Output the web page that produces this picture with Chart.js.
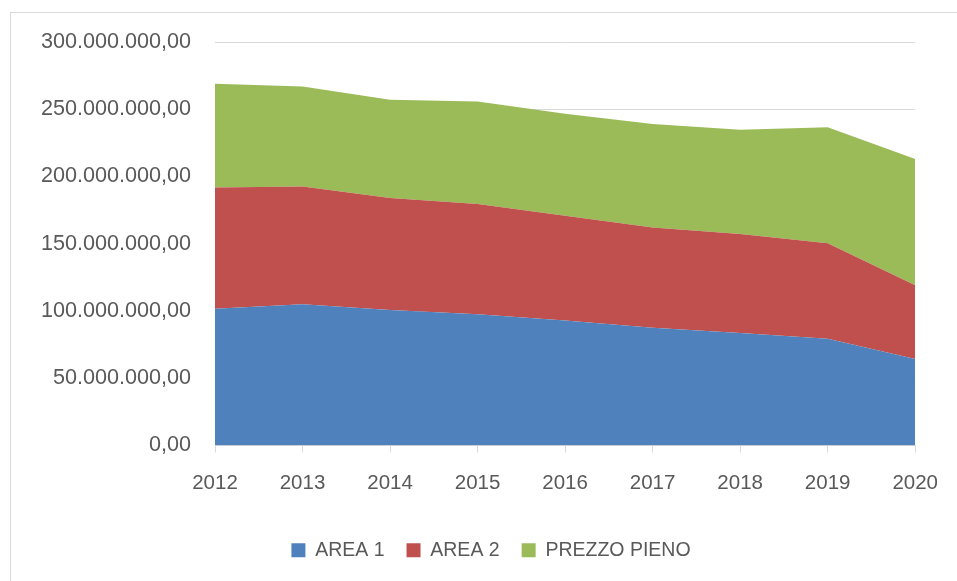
<!DOCTYPE html>
<html>
<head>
<meta charset="utf-8">
<script src="https://cdn.jsdelivr.net/npm/chart.js@4"></script>
<style>
  html, body { margin: 0; padding: 0; background: #fff; }
  #wrap { position: relative; width: 957px; height: 581px; overflow: hidden; }
  #frame { position: absolute; left: 10px; top: 12px; width: 980px; height: 600px; border: 1px solid #d9d9d9; }
  #chart { position: absolute; left: 0; top: 0; }
</style>
</head>
<body>
<div id="wrap">
  <div id="frame"></div>
  <canvas id="chart" width="957" height="581"></canvas>
</div>
<script>
const years = ['2012', '2013', '2014', '2015', '2016', '2017', '2018', '2019', '2020'];
const area1 = [101600000, 105100000, 100700000, 97500000, 93000000, 87500000, 83700000, 79300000, 64400000];
const area2 = [90300000, 87500000, 83300000, 82000000, 77800000, 74500000, 73600000, 71100000, 54700000];
const prezzoPieno = [77100000, 74400000, 73000000, 76300000, 75800000, 77100000, 77400000, 86200000, 93900000];
const yMin = 0;
const yMax = 300000000;
const yStep = 50000000;

const textColor = '#595959';
const gridColor = '#d9d9d9';
const family = "'Liberation Sans', Arial, sans-serif";

// formato italiano: 300.000.000,00
function formatIt(value) {
  const parts = Math.round(value).toString().replace(/\B(?=(\d{3})+(?!\d))/g, '.');
  return parts + ',00';
}

function areaSet(label, data, color, fill) {
  return {
    label: label,
    data: data,
    backgroundColor: color,
    borderColor: color,
    borderWidth: 0,
    pointRadius: 0,
    pointHoverRadius: 0,
    fill: fill,
    tension: 0,
  };
}

// la legenda in Excel e' centrata un po' piu' a destra
const shiftLegend = {
  id: 'shiftLegend',
  afterLayout(chart) {
    if (chart.legend) {
      chart.legend.left += 23;
      chart.legend.right += 23;
    }
  },
};

const ctx = document.getElementById('chart').getContext('2d');
new Chart(ctx, {
  type: 'line',
  data: {
    labels: years,
    datasets: [
      areaSet('AREA 1', area1, '#4f81bd', 'origin'),
      areaSet('AREA 2', area2, '#c0504d', '-1'),
      areaSet('PREZZO PIENO', prezzoPieno, '#9bbb59', '-1'),
    ],
  },
  plugins: [shiftLegend],
  options: {
    responsive: false,
    animation: false,
    layout: { padding: { left: 20, right: 41, top: 42, bottom: 11 } },
    plugins: {
      tooltip: { enabled: false },
      legend: {
        position: 'bottom',
        labels: {
          color: textColor,
          font: { family: family, size: 19.5 },
          boxWidth: 14,
          boxHeight: 14,
          padding: 22,
        },
      },
    },
    scales: {
      x: {
        offset: false,
        grid: {
          drawOnChartArea: false,
          drawTicks: true,
          tickLength: 7,
          color: gridColor,
        },
        border: { color: gridColor, width: 1 },
        ticks: { color: textColor, font: { family: family, size: 20.5 }, padding: 19, maxRotation: 0 },
        afterFit: (scale) => { scale.height = 73; },
      },
      y: {
        stacked: true,
        min: yMin,
        max: yMax,
        grid: { color: gridColor, drawTicks: false },
        border: { display: false },
        ticks: {
          stepSize: yStep,
          color: textColor,
          font: { family: family, size: 21.6 },
          padding: 24,
          callback: (v) => formatIt(v),
        },
        afterFit: (scale) => { scale.width = 195; },
      },
    },
  },
});
</script>
</body>
</html>
